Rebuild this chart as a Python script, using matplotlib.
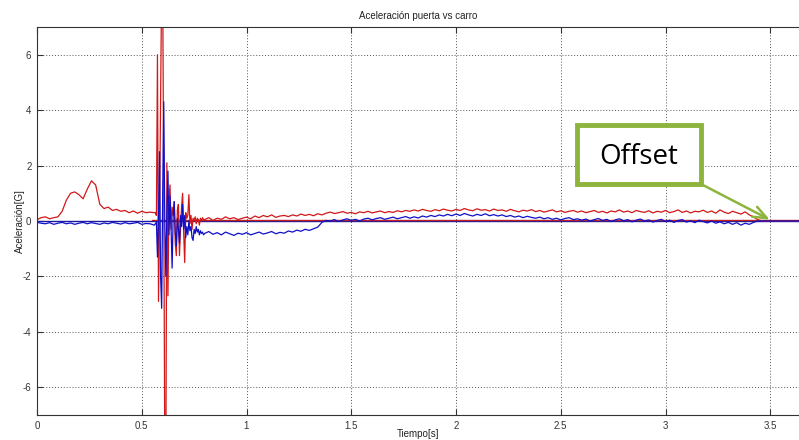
import numpy as np
import matplotlib
matplotlib.use("Agg")
import matplotlib.pyplot as plt
from matplotlib.patches import Rectangle

# --- data ----------------------------------------------------------------
# before the impact (0 .. 0.56 s, every 0.02 s)
t_pre = np.linspace(0.0, 0.56, 29)
red_pre = [0.05, 0.12, 0.15, 0.08, 0.12, 0.15, 0.35, 0.75, 1.0, 1.05,
           0.95, 0.8, 1.15, 1.45, 1.3, 0.6, 0.45, 0.5, 0.38, 0.42,
           0.35, 0.38, 0.3, 0.36, 0.28, 0.35, 0.3, 0.32, 0.3]
blue_pre = [-0.05, -0.08, -0.1, -0.06, -0.12, -0.08, -0.05, -0.1, -0.07, -0.12,
            -0.08, -0.05, -0.1, -0.06, -0.09, -0.12, -0.07, -0.1, -0.05, -0.08,
            -0.11, -0.06, -0.1, -0.08, -0.05, -0.12, -0.09, -0.1, -0.15]

# impact (0.565 .. 0.795 s, every 0.005 s)
t_hit = np.linspace(0.565, 0.795, 47)
red_hit = [0.3, 0.2, 6.0, -2.9, 0.3, 4.5, 8.5, 8.5, 1.0, -8.5,
           -8.5, 2.1, -2.7, 0.8, 1.3, -0.3, 0.5, 0.2, 0.7, -0.8,
           -1.25, 0.4, 0.6, -1.25, -0.3, 0.5, 1.0, -0.4, -1.5, 0.3,
           0.1, 0.2, 0.95, -0.1, 0.2, -0.3, 0.1, 0.0, 0.15, -0.1,
           0.1, 0.05, -0.15, 0.1, 0.0, 0.12, 0.05]
blue_hit = [-0.1, -0.05, -1.3, 0.2, 2.5, -2.0, -3.15, 1.0, 4.3, 0.0,
            -2.0, 0.3, 1.8, -0.5, 0.9, -0.3, -1.7, 0.2, 0.7, -0.4,
            -0.9, 0.1, -0.3, -0.8, 0.2, -0.2, 0.6, -0.3, 0.2, -0.6,
            -0.2, -0.5, 0.0, -0.35, -0.2, -0.6, -0.7, -0.3, -0.45, -0.2,
            -0.4, -0.3, -0.5, -0.35, -0.45, -0.4, -0.5]

# after the impact (0.80 .. 3.44 s, every 0.02 s)
t_post = np.linspace(0.80, 3.44, 133)
red_post = [0.05, 0.12, 0.02, 0.10, 0.06, 0.15, 0.08, 0.12, 0.05, 0.10,
            0.14, 0.08, 0.18, 0.12, 0.20, 0.15, 0.22, 0.13, 0.18, 0.20,
            0.16, 0.22, 0.18, 0.25, 0.20, 0.24, 0.19, 0.26, 0.22, 0.28,
            0.32, 0.27, 0.30, 0.34, 0.28, 0.31, 0.26, 0.33, 0.30, 0.35,
            0.29, 0.33, 0.36, 0.30, 0.34, 0.31, 0.37, 0.33, 0.38, 0.35,
            0.40, 0.36, 0.42, 0.38, 0.35, 0.41, 0.37, 0.43, 0.39, 0.36,
            0.42, 0.38, 0.45, 0.40, 0.37, 0.44, 0.39, 0.41, 0.36, 0.43,
            0.38, 0.40, 0.35, 0.42, 0.37, 0.33, 0.39, 0.36, 0.41, 0.34,
            0.38, 0.32, 0.36, 0.40, 0.33, 0.37, 0.31, 0.35, 0.38, 0.32,
            0.36, 0.30, 0.34, 0.38, 0.31, 0.35, 0.29, 0.36, 0.33, 0.40,
            0.32, 0.36, 0.30, 0.38, 0.34, 0.31, 0.37, 0.29, 0.35, 0.32,
            0.38, 0.30, 0.34, 0.40, 0.31, 0.36, 0.29, 0.35, 0.33, 0.39,
            0.31, 0.36, 0.28, 0.40, 0.32, 0.27, 0.35, 0.30, 0.25, 0.33,
            0.22, 0.15, 0.05]
blue_post = [-0.45, -0.38, -0.48, -0.42, -0.50, -0.40, -0.46, -0.52, -0.44, -0.48,
             -0.42, -0.50, -0.45, -0.40, -0.47, -0.43, -0.38, -0.46, -0.41, -0.44,
             -0.36, -0.40, -0.33, -0.37, -0.30, -0.34, -0.28, -0.22, -0.05, 0.02,
             0.0, 0.05, -0.02, 0.04, 0.08, 0.02, 0.06, 0.0, 0.07, 0.10,
             0.04, 0.09, 0.12, 0.06, 0.10, 0.14, 0.08, 0.12, 0.16, 0.10,
             0.15, 0.11, 0.18, 0.14, 0.20, 0.16, 0.22, 0.18, 0.24, 0.19,
             0.25, 0.20, 0.27, 0.22, 0.18, 0.24, 0.20, 0.26, 0.19, 0.23,
             0.18, 0.22, 0.16, 0.20, 0.14, 0.18, 0.12, 0.17, 0.13, 0.10,
             0.14, 0.08, 0.12, 0.06, 0.10, 0.04, 0.09, 0.12, 0.05, 0.08,
             0.03, 0.07, 0.0, 0.05, 0.09, 0.02, 0.06, -0.02, 0.04, 0.08,
             0.01, 0.05, -0.03, 0.03, 0.07, 0.0, 0.04, -0.04, 0.02, 0.06,
             -0.02, 0.03, -0.05, 0.02, 0.05, -0.04, 0.01, -0.06, 0.03, -0.02,
             -0.07, 0.0, -0.08, -0.03, -0.10, -0.05, -0.12, -0.06, -0.15, -0.08,
             -0.12, -0.05, 0.0]

# after the offset is removed both signals sit on zero
t_end = [3.46, 3.7]
red_end = [0.0, 0.0]
blue_end = [0.0, 0.0]

# reference (offset) lines
red_ref_t = [0.55, 3.7]
red_ref = [0.03, 0.03]
blue_ref_t = [0.0, 3.7]
blue_ref = [0.0, 0.0]

t = np.concatenate([t_pre, t_hit, t_post, t_end])
red = np.concatenate([red_pre, red_hit, red_post, red_end])
blue = np.concatenate([blue_pre, blue_hit, blue_post, blue_end])

# --- figure --------------------------------------------------------------
plt.rcParams['font.family'] = ['Liberation Sans', 'DejaVu Sans']
plt.rcParams['axes.unicode_minus'] = False
W, H = 799, 440
fig = plt.figure(figsize=(W / 100, H / 100), dpi=100)
ax = fig.add_axes([37 / W, 25 / H, (W - 37) / W, (415 - 27) / H])

ax.plot(blue_ref_t, blue_ref, color='#1a1aa0', lw=1.0)
ax.plot(red_ref_t, red_ref, color='#c02020', lw=1.0)
ax.plot(t, red, color='#d01818', lw=0.9)
ax.plot(t, blue, color='#1010c8', lw=0.9)

ax.set_xlim(0, (W - 37) / 209.5)
ax.set_ylim(-7, 7)
ax.set_xticks([0, 0.5, 1, 1.5, 2, 2.5, 3, 3.5])
ax.set_xticklabels(['0', '0.5', '1', '1.5', '2', '2.5', '3', '3.5'])
ax.set_yticks([-6, -4, -2, 0, 2, 4, 6])
ax.grid(True, linestyle=(0, (1, 2)), color='#555555', lw=0.7)
ax.tick_params(direction='in', length=4, top=True, right=False,
               labelsize=7, colors='#333333', pad=4)
ax.spines['right'].set_visible(False)
for s in ['left', 'top', 'bottom']:
    ax.spines[s].set_color('#333333')

ax.set_title('Aceleración puerta vs carro', fontsize=7, color='#222222', pad=6)
ax.set_xlabel('Tiempo[s]', fontsize=7, color='#222222', labelpad=-1)
ax.set_ylabel('Aceleración[G]', fontsize=7, color='#222222', labelpad=-2)

# "Offset" call-out
green = '#8db43c'
box_x0, box_y0, box_x1, box_y1 = 577, 125, 701, 184
fig.patches.append(Rectangle((box_x0 / W, 1 - box_y1 / H),
                             (box_x1 - box_x0) / W, (box_y1 - box_y0) / H,
                             transform=fig.transFigure, facecolor='white',
                             edgecolor=green, lw=3.5, zorder=5))
fig.text((box_x0 + box_x1) / 2 / W, 1 - 157 / H, 'Offset', fontsize=20,
         family=['Open Sans', 'DejaVu Sans'], ha='center', va='center',
         color='black', zorder=6)
ax.annotate('', xy=(3.51, 0.0), xycoords='data',
            xytext=(box_x1 / W, 1 - box_y1 / H), textcoords='figure fraction',
            arrowprops=dict(arrowstyle='->,head_length=1.0,head_width=0.4',
                            color=green, lw=1.8), zorder=6)

fig.savefig('out.png', dpi=100)
